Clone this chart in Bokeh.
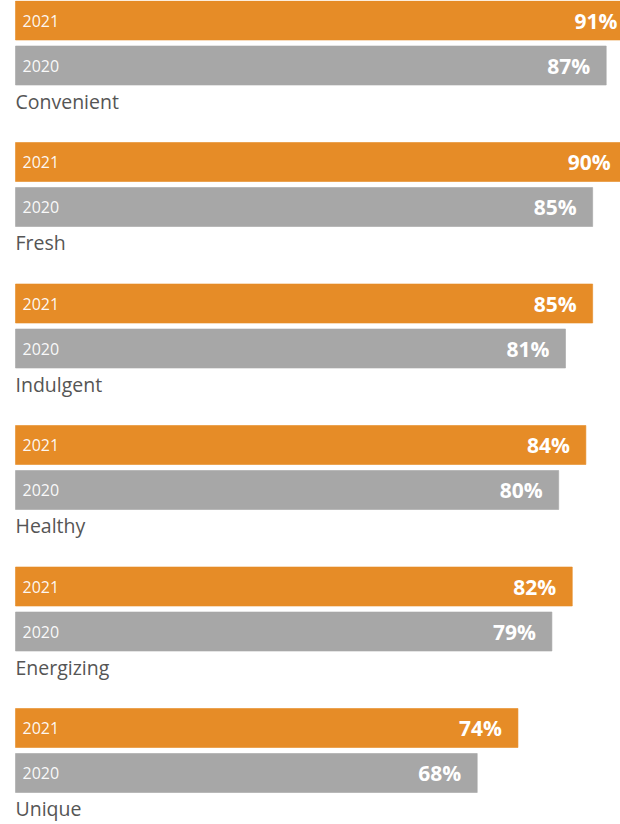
from bokeh.plotting import figure
from bokeh.models import ColumnDataSource, Range1d
from bokeh.core.properties import value
from bokeh.embed import file_html
from bokeh.resources import INLINE

# Survey attributes and share of respondents, by year
categories = ["Convenient", "Fresh", "Indulgent", "Healthy", "Energizing", "Unique"]
values_2021 = [91, 90, 85, 84, 82, 74]
values_2020 = [87, 85, 81, 80, 79, 68]
years = ["2021", "2020"]

ORANGE = "#E68C27"
GRAY = "#A7A7A7"
LABEL = "#555555"

# Vertical layout (screen pixels, y grows downward)
GROUP_STEP = 141.5
TOP0 = 0.5
BAR_H = 39
BAR_GAP = 6


def bar_center(i, k):
    return TOP0 + GROUP_STEP * i + k * (BAR_H + BAR_GAP) + BAR_H / 2


rows = {"y": [], "v": [], "color": [], "year": [], "pct": []}
for i in range(len(categories)):
    for k, (yr, vals, col) in enumerate(zip(years, [values_2021, values_2020], [ORANGE, GRAY])):
        rows["y"].append(bar_center(i, k))
        rows["v"].append(vals[i])
        rows["color"].append(col)
        rows["year"].append(yr)
        rows["pct"].append(f"{vals[i]}%")
src = ColumnDataSource(rows)

cat_src = ColumnDataSource(dict(
    y=[TOP0 + GROUP_STEP * i + 2 * BAR_H + BAR_GAP + 16 for i in range(len(categories))],
    x=[0] * len(categories),
    name=categories,
))

W, H = 620, 824
PX_PER_UNIT = 6.79
LEFT_PAD = 15

p = figure(width=W, height=H, output_backend="svg", toolbar_location=None,
           x_range=Range1d(-LEFT_PAD / PX_PER_UNIT, (W - LEFT_PAD) / PX_PER_UNIT),
           y_range=Range1d(H, 0), min_border=0)
p.axis.visible = False
p.grid.visible = False
p.outline_line_color = None
p.background_fill_color = "white"
p.border_fill_color = "white"

p.hbar(y="y", left=0, right="v", height=BAR_H, fill_color="color", line_color="color",
       line_alpha=0.6, line_width=1, source=src)

p.text(x=0, y="y", text="year", source=src, x_offset=7, text_baseline="middle",
       text_align="left", text_color="white", text_alpha=0.95, text_font_size="16px",
       text_font=value("Open Sans"))

p.text(x="v", y="y", text="pct", source=src, x_offset=-16, text_baseline="middle",
       text_align="right", text_color="white", text_font_size="21px",
       text_font_style="bold", text_font=value("Open Sans"))

p.text(x="x", y="y", text="name", source=cat_src, text_baseline="middle",
       text_align="left", text_color=LABEL, text_font_size="19.5px",
       text_font=value("Open Sans"))

open("out.html", "w").write(file_html(p, INLINE))
